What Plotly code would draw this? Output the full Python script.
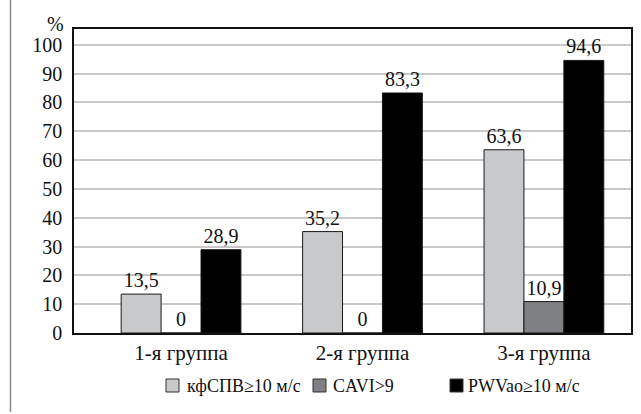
import plotly.graph_objects as go

categories = ["1-я группа", "2-я группа", "3-я группа"]
series_names = ["кфСПВ≥10 м/с", "CAVI>9", "PWVao≥10 м/с"]
kfspv = [13.5, 35.2, 63.6]
cavi = [0, 0, 10.9]
pwvao = [28.9, 83.3, 94.6]
y_ticks = [0, 10, 20, 30, 40, 50, 60, 70, 80, 90, 100]

colors = ["#c8c9cb", "#7f8083", "#000000"]
FONT = "Liberation Serif"

W, H = 641, 414
L, R, T, B = 74, 10, 29, 81
PW, PH = W - L - R, H - T - B


def px(x):
    return (x - L) / PW


def py(y):
    return (H - B - y) / PH


def fmt(v):
    return "0" if v == 0 else f"{v:.1f}".replace(".", ",")


fig = go.Figure()
for name, vals, col in zip(series_names, [kfspv, cavi, pwvao], colors):
    fig.add_trace(go.Bar(
        x=categories, y=vals, name=name,
        marker=dict(color=col, line=dict(color="#1a1a1a", width=1)),
        text=[fmt(v) for v in vals], textposition="outside",
        textfont=dict(family=FONT, size=20, color="#111"),
        cliponaxis=False, showlegend=False,
    ))

fig.update_layout(
    width=W, height=H,
    margin=dict(l=L, r=R, t=T, b=B, autoexpand=False),
    paper_bgcolor="white", plot_bgcolor="white",
    barmode="group", bargap=0.34, bargroupgap=0,
    font=dict(family=FONT, size=20, color="#111"),
    showlegend=False,
)
fig.update_xaxes(
    type="category", range=[-0.59, 2.48], automargin=False,
    showline=True, linecolor="#111", linewidth=1.5, mirror=True,
    ticks="", tickfont=dict(family=FONT, size=21, color="#111"),
    showgrid=False,
)
fig.update_yaxes(
    range=[0, 105.5], tickvals=y_ticks, automargin=False,
    showline=True, linecolor="#111", linewidth=1.5, mirror=True,
    gridcolor="#c8c8c8", gridwidth=1.5,
    ticks="", ticklabelstandoff=6,
    tickfont=dict(family=FONT, size=20, color="#111"),
    zeroline=False,
)

# "%" axis unit label
fig.add_annotation(x=px(66), y=py(24), xref="paper", yref="paper",
                   text="%", showarrow=False, xanchor="right", yanchor="middle",
                   font=dict(family=FONT, size=20, color="#111"))

# left page border line
fig.add_shape(type="line", xref="paper", yref="paper",
              x0=px(10.5), x1=px(10.5), y0=py(0), y1=py(412),
              line=dict(color="#8c8c8c", width=1.5))

# custom legend
legend_sq_x = [166, 313, 450]
legend_txt_x = [185, 331, 466]
ly0, ly1 = 379, 392
for name, col, sx, tx in zip(series_names, colors, legend_sq_x, legend_txt_x):
    fig.add_shape(type="rect", xref="paper", yref="paper",
                  x0=px(sx), x1=px(sx + 13), y0=py(ly1), y1=py(ly0),
                  fillcolor=col, line=dict(color="#333", width=1))
    fig.add_annotation(x=px(tx), y=py((ly0 + ly1) / 2), xref="paper", yref="paper",
                       text=name, showarrow=False, xanchor="left", yanchor="middle",
                       font=dict(family=FONT, size=18, color="#111"))

fig.write_html("out.html", config={"displayModeBar": False},
               post_script="document.body.style.margin='0';")
